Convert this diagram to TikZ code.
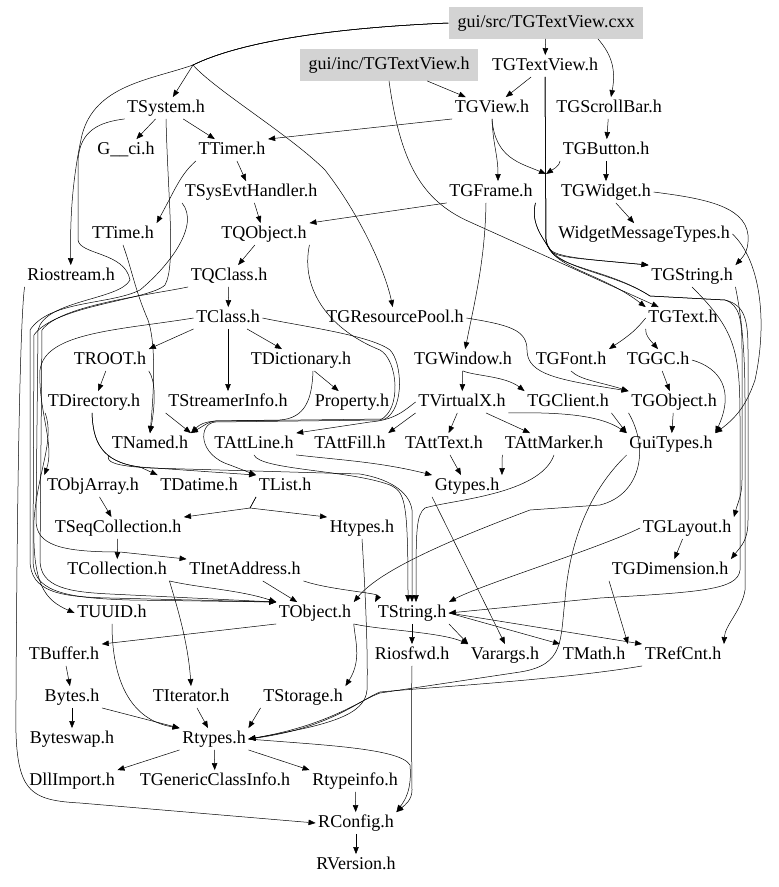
\documentclass[tikz,border=0pt]{standalone}
\usepackage{fontspec}
\setmainfont{Liberation Serif}
\newfontfamily\hdrfont{Liberation Serif}
\usetikzlibrary{arrows.meta}
\definecolor{rootgray}{HTML}{D3D3D3}
\tikzset{
  hdr/.style={inner sep=2.5pt, text height=12.5pt, text depth=4pt, font=\hdrfont\fontsize{18}{20}\selectfont},
  rootfile/.style={hdr, fill=rootgray, inner xsep=9pt, inner ysep=7.5pt},
  dep/.style={->, line width=0.5pt},
}
\begin{document}
\begin{tikzpicture}[x=1pt, y=-1pt, >={Triangle[length=7pt,width=5.5pt]}]
    \useasboundingbox (0,0) rectangle (779,887);
    % files
    \node [rootfile] (cxx) at (546,23) {gui/src/TGTextView.cxx};
    \node [rootfile] (ginc) at (389,65) {gui/inc/TGTextView.h};
    \node [hdr] (tgtextview) at (545,66) {TGTextView.h};
    \node [hdr] (tgview) at (492,108) {TGView.h};
    \node [hdr] (tgscrollbar) at (609,108) {TGScrollBar.h};
    \node [hdr] (tsystem) at (166,108) {TSystem.h};
    \node [hdr] (gci) at (126,150) {G\_\_ci.h};
    \node [hdr] (ttimer) at (232,150) {TTimer.h};
    \node [hdr] (tgbutton) at (606,150) {TGButton.h};
    \node [hdr] (tsysevt) at (251,192) {TSysEvtHandler.h};
    \node [hdr] (tgframe) at (491,192) {TGFrame.h};
    \node [hdr] (tgwidget) at (606,192) {TGWidget.h};
    \node [hdr] (ttime) at (123,234) {TTime.h};
    \node [hdr] (tqobject) at (264,234) {TQObject.h};
    \node [hdr] (widgetmsg) at (644,234) {WidgetMessageTypes.h};
    \node [hdr] (riostream) at (71,276) {Riostream.h};
    \node [hdr] (tqclass) at (229,276) {TQClass.h};
    \node [hdr] (tgstring) at (692,276) {TGString.h};
    \node [hdr] (tclass) at (228,318) {TClass.h};
    \node [hdr] (tgrespool) at (395,318) {TGResourcePool.h};
    \node [hdr] (tgtext) at (683,318) {TGText.h};
    \node [hdr] (troot) at (110,360) {TROOT.h};
    \node [hdr] (tdict) at (301,360) {TDictionary.h};
    \node [hdr] (tgwindow) at (463,360) {TGWindow.h};
    \node [hdr] (tgfont) at (571,360) {TGFont.h};
    \node [hdr] (tggc) at (658,360) {TGGC.h};
    \node [hdr] (tdirectory) at (94,402) {TDirectory.h};
    \node [hdr] (tstreamer) at (228,402) {TStreamerInfo.h};
    \node [hdr] (property) at (352,402) {Property.h};
    \node [hdr] (tvirtualx) at (462,402) {TVirtualX.h};
    \node [hdr] (tgclient) at (568,402) {TGClient.h};
    \node [hdr] (tgobject) at (674,402) {TGObject.h};
    \node [hdr] (tnamed) at (150,444) {TNamed.h};
    \node [hdr] (tattline) at (254,444) {TAttLine.h};
    \node [hdr] (tattfill) at (350,444) {TAttFill.h};
    \node [hdr] (tatttext) at (444,444) {TAttText.h};
    \node [hdr] (tattmarker) at (554,444) {TAttMarker.h};
    \node [hdr] (guitypes) at (671,444) {GuiTypes.h};
    \node [hdr] (tobjarray) at (93,486) {TObjArray.h};
    \node [hdr] (tdatime) at (199,486) {TDatime.h};
    \node [hdr] (tlist) at (285,486) {TList.h};
    \node [hdr] (gtypes) at (467,486) {Gtypes.h};
    \node [hdr] (tseqcoll) at (118,528) {TSeqCollection.h};
    \node [hdr] (htypes) at (362,528) {Htypes.h};
    \node [hdr] (tglayout) at (687,528) {TGLayout.h};
    \node [hdr] (tcollection) at (117,570) {TCollection.h};
    \node [hdr] (tinetaddr) at (245,570) {TInetAddress.h};
    \node [hdr] (tgdim) at (670,570) {TGDimension.h};
    \node [hdr] (tuuid) at (112,613) {TUUID.h};
    \node [hdr] (tobject) at (315,613) {TObject.h};
    \node [hdr] (tstring) at (412,613) {TString.h};
    \node [hdr] (tbuffer) at (64,655) {TBuffer.h};
    \node [hdr] (riosfwd) at (412,655) {Riosfwd.h};
    \node [hdr] (varargs) at (505,655) {Varargs.h};
    \node [hdr] (tmath) at (594,655) {TMath.h};
    \node [hdr] (trefcnt) at (683,655) {TRefCnt.h};
    \node [hdr] (bytes) at (72,697) {Bytes.h};
    \node [hdr] (titerator) at (191,697) {TIterator.h};
    \node [hdr] (tstorage) at (303,697) {TStorage.h};
    \node [hdr] (byteswap) at (72,739) {Byteswap.h};
    \node [hdr] (rtypes) at (214,739) {Rtypes.h};
    \node [hdr] (dllimport) at (72,781) {DllImport.h};
    \node [hdr] (tgeneric) at (215,781) {TGenericClassInfo.h};
    \node [hdr] (rtypeinfo) at (355,781) {Rtypeinfo.h};
    \node [hdr] (rconfig) at (356,823) {RConfig.h};
    \node [hdr] (rversion) at (356,865) {RVersion.h};
    \coordinate (jtop) at (193,65);
    \coordinate (jmid) at (546,174);
    % top part
    \draw [dep] (cxx) -- (tgtextview);
    \draw [dep] ([xshift=52pt]cxx.south) .. controls (612,55) and (616,70) .. (tgscrollbar);
    \draw [dep] (cxx.west) .. controls (330,28) and (240,42) .. (jtop) -- (tsystem);
    \draw [dep] (cxx.west) .. controls (330,28) and (240,42) .. (jtop) .. controls (215,90) and (290,135) .. (325,170) .. controls (360,215) and (385,270) .. (tgrespool);
    \draw [dep] (cxx.west) .. controls (330,28) and (240,42) .. (jtop) .. controls (150,80) and (95,85) .. (82,135) .. controls (72,180) and (70,220) .. (riostream);
    \draw [dep] (ginc) -- (tgview);
    \draw [dep] (ginc.south) .. controls (400,160) and (420,200) .. (470,222) -- (tgtext);
    \draw [dep] (tgtextview) -- (tgview);
    \draw [dep] (tgtextview.south) -- (546,240) .. controls (547,256) and (560,257) .. (tgstring.north west);
    \draw [dep] (tgtextview.south) -- (546,240) .. controls (550,268) and (600,272) .. (tgtext.north west);
    \draw [dep] (tgtextview.south) -- (546,240) .. controls (552,270) and (610,270) .. (650,296) -- (725,300) .. controls (745,305) and (748,320) .. (748,350) -- (748,520) .. controls (748,540) and (742,545) .. (tgdim.north east);
    \draw [dep] (tgview.south west) -- (ttimer.north east);
    \draw [dep] (tgview.south) .. controls (493,145) and (498,155) .. ([xshift=7pt]tgframe.north);
    \draw [dep] (tgview.south) .. controls (495,158) and (520,163) .. (jmid);
    \draw [dep] (tgbutton.south west) .. controls (560,166) and (552,170) .. (jmid);
    \draw [dep] (tgscrollbar) -- (tgbutton);
    \draw [dep] (tgbutton) -- (tgwidget);
    \draw [dep] (tgwidget) -- (widgetmsg);
    \draw [dep] (tgwidget.east) .. controls (700,198) and (745,205) .. (748,235) .. controls (749,248) and (745,255) .. (tgstring.north east);
    \draw [dep] (tsystem) -- (gci);
    \draw [dep] (tsystem) -- (ttimer);
    \draw [dep] (ttimer) -- (tsysevt);
    \draw [dep] (ttimer.south west) .. controls (180,175) and (175,190) .. (ttime.north east);
    \draw [dep] (tsysevt) -- (tqobject);
    \draw [dep] (tgframe.south west) -- (tqobject.north east);
    \draw [dep] ([xshift=-5pt]tgframe.south) .. controls (485,260) and (475,300) .. (tgwindow);
    \draw [dep] (tgframe.south east) .. controls (530,225) and (545,240) .. (550,250) .. controls (556,258) and (575,258) .. (tgstring.north west);
    \draw [dep] (tgframe.south east) .. controls (530,225) and (545,240) .. (550,250) .. controls (560,268) and (610,270) .. (650,296) -- (725,300) .. controls (740,305) and (742,320) .. (742,350) -- (742,480) .. controls (742,495) and (738,502) .. (tglayout.north east);
    \draw [dep] (tqobject) -- (tqclass);
    \draw [dep] (tqclass) -- (tclass);
    % left bundle
    \draw [dep] (tsystem.south west) .. controls (100,122) and (80,130) .. (78,160) -- (78,240) .. controls (80,255) and (125,252) .. (130,280) .. controls (120,300) and (45,300) .. (38,330) -- (36,520) .. controls (36,545) and (60,552) .. (120,552) -- (tinetaddr.north west);
    \draw [dep] (tsystem.south) .. controls (168,200) and (176,265) .. (165,285) .. controls (150,300) and (55,305) .. (34,335) -- (33,560) .. controls (33,590) and (60,598) .. (130,600) -- (tobject.north west);
    \draw [dep] (tsysevt.south west) .. controls (200,225) and (170,265) .. (140,290) .. controls (110,305) and (50,300) .. (30,330) -- (30,560) .. controls (30,592) and (60,597) .. (110,598) -- (tobject.north west);
    \draw [dep] (tqclass.south west) .. controls (150,295) and (60,305) .. (42,330) -- (40,560) .. controls (40,588) and (70,592) .. (110,594) -- (tobject.north west);
    \draw [dep] (ttime.south) .. controls (132,270) and (135,290) .. (148,320) .. controls (155,340) and (155,380) .. (tnamed.north);
    \draw [dep] (riostream.south west) .. controls (20,320) and (17,500) .. (16,700) .. controls (14,790) and (25,800) .. (80,803) -- (rconfig.west);
    % middle part
    \draw [dep] (tclass.south west) -- (troot.north east);
    \draw [dep] (tclass) -- (tdict);
    \draw [dep] (tclass) -- (tstreamer);
    \draw [dep] (tclass.west) .. controls (120,330) and (45,332) .. (40,370) .. controls (38,410) and (55,445) .. (tobjarray.north west);
    \draw [dep] (tclass.east) .. controls (300,326) and (370,335) .. (390,350) .. controls (402,362) and (405,408) .. (385,419) -- (215,421) .. controls (208,422) and (205,425) .. (tnamed.north east);
    \draw [dep] (tqobject.south east) .. controls (300,290) and (330,330) .. (380,350) .. controls (398,360) and (402,410) .. (380,420) -- (215,422) .. controls (198,424) and (198,455) .. (230,465) -- (tlist.north west);
    \draw [dep] (troot) -- (tdirectory);
    \draw [dep] (troot.south east) .. controls (155,380) and (156,400) .. (tnamed.north);
    \draw [dep] ([xshift=-2pt]tdirectory.south) .. controls (93,440) and (100,462) .. (140,467) -- (tdatime.north west);
    \draw [dep] ([xshift=-2pt]tdirectory.south) .. controls (93,440) and (100,462) .. (140,467) -- (tlist.north west);
    \draw [dep] (tdirectory.south west) .. controls (55,440) and (38,470) .. (34,520) .. controls (32,585) and (45,600) .. (tuuid.west);
    \draw [dep] (tdict) -- (property);
    \draw [dep] ([xshift=12pt]tdict.south) .. controls (312,400) and (305,418) .. (280,420) -- (215,421) .. controls (205,422) and (200,424) .. (tnamed.north east);
    \draw [dep] (tstreamer.south west) -- (tnamed.north east);
    \draw [dep] (tgwindow) -- (tvirtualx);
    \draw [dep] (tgwindow.south) .. controls (475,376) and (505,376) .. (tgclient.north west);
    \draw [dep] (tgrespool.east) .. controls (510,325) and (527,330) .. (527,350) .. controls (527,375) and (560,380) .. (tgobject.north west);
    \draw [dep] (tgtext.west) .. controls (636,330) and (630,335) .. (tgfont.north east);
    \draw [dep] (tgtext.south west) .. controls (645,335) and (650,340) .. (tggc.north);
    \draw [dep] (tgfont.south) .. controls (580,380) and (600,382) .. (tgobject.north west);
    \draw [dep] (tggc) -- (tgobject);
    \draw [dep] (tggc.east) .. controls (720,368) and (735,390) .. (guitypes.north east);
    \draw [dep] (widgetmsg.east) .. controls (760,260) and (768,320) .. (755,380) .. controls (748,400) and (740,415) .. (guitypes.north east);
    \draw [dep] (tvirtualx.west) .. controls (405,410) and (395,420) .. (370,422) -- (tattline.north east);
    \draw [dep] (tvirtualx.south west) -- (tattfill.north east);
    \draw [dep] (tvirtualx) -- (tatttext);
    \draw [dep] (tvirtualx) -- (tattmarker);
    \draw [dep] (tvirtualx.south east) .. controls (560,412) and (600,415) .. (guitypes.north west);
    \draw [dep] (tgobject) -- (guitypes);
    \draw [dep] (tgclient.south east) -- (guitypes.north west);
    \draw [dep] (tatttext) -- (gtypes);
    \draw [dep] (tattline.south east) .. controls (340,460) and (380,462) .. (gtypes.north west);
    \draw [dep] (tattmarker.south west) -- (gtypes.north east);
    \draw [dep] (tnamed.south west) .. controls (105,462) and (115,466) .. (150,468) -- (360,474) .. controls (395,480) and (410,495) .. (412,510) -- (tstring.north);
    \draw [dep] (tattline.south) .. controls (260,470) and (350,470) .. (390,485) .. controls (405,492) and (408,500) .. ([xshift=-4pt]tstring.north);
    \draw [dep] (tgobject.south west) .. controls (650,450) and (640,495) .. (600,505) -- (530,510) .. controls (450,540) and (380,570) .. (tobject.north east);
    \draw [dep] (tattmarker.south) .. controls (540,495) and (450,500) .. (425,508) .. controls (416,515) and (416,530) .. ([xshift=4pt]tstring.north);
    \draw [dep] (gtypes.south west) -- (varargs.north);
    % lower part
    \draw [dep] (tobjarray) -- (tseqcoll);
    \draw [dep] (tlist.south west) -- (250,508) -- (tseqcoll.north east);
    \draw [dep] (tlist.south west) -- (250,508) -- (htypes.north west);
    \draw [dep] (tseqcoll) -- (tcollection);
    \draw [dep] (tcollection.south east) .. controls (175,600) and (188,640) .. (titerator.north);
    \draw [dep] (tcollection.south east) .. controls (200,588) and (240,590) .. (tobject.north west);
    \draw [dep] (tinetaddr) -- (tobject);
    \draw [dep] (tinetaddr.south east) .. controls (330,590) and (380,593) .. (tstring.north west);
    \draw [dep] (htypes.south) .. controls (366,600) and (368,660) .. (367,690) .. controls (365,715) and (330,725) .. (rtypes.east);
    \draw [dep] (tglayout) -- (tgdim);
    \draw [dep] (tglayout.west) .. controls (600,548) and (480,585) .. (tstring.north east);
    \draw [dep] (tgdim.south west) -- (tmath.north east);
    \draw [dep] (tgstring.south) .. controls (735,330) and (740,350) .. (740,420) -- (740,570) .. controls (738,590) and (700,592) .. (600,598) -- (tstring.east);
    \draw [dep] (tgstring.south east) .. controls (740,310) and (745,340) .. (745,400) -- (745,590) .. controls (742,610) and (725,625) .. (trefcnt.north east);
    \draw [dep] (guitypes.south west) .. controls (580,500) and (568,560) .. (565,600) .. controls (560,640) and (565,665) .. (520,672) -- (380,693) .. controls (360,700) and (330,725) .. (rtypes.east);
    \draw [dep] (trefcnt.south west) .. controls (560,680) and (420,688) .. (380,692) .. controls (360,700) and (330,728) .. (rtypes.east);
    \draw [dep] (tobject.south west) -- (tbuffer.north east);
    \draw [dep] (tuuid.south) .. controls (112,680) and (130,720) .. (rtypes.north west);
    \draw [dep] (tobject.south east) .. controls (355,640) and (362,660) .. (tstorage.north east);
    \draw [dep] (tobject.south east) .. controls (380,630) and (440,632) .. (varargs.north west);
    \draw [dep] (tstring) -- (riosfwd);
    \draw [dep] (tstring.south east) -- (varargs.north west);
    \draw [dep] (tstring.east) -- (tmath.north west);
    \draw [dep] (tstring.east) -- (trefcnt.north west);
    \draw [dep] (tbuffer) -- (bytes);
    \draw [dep] (bytes) -- (byteswap);
    \draw [dep] (bytes.south east) -- (rtypes.north west);
    \draw [dep] (titerator) -- (rtypes);
    \draw [dep] (tstorage.south west) -- (rtypes.north east);
    \draw [dep] (rtypes.south west) -- (dllimport.north east);
    \draw [dep] (rtypes) -- (tgeneric);
    \draw [dep] (rtypes.south east) -- (rtypeinfo.north west);
    \draw [dep] (rtypes.east) .. controls (320,745) and (400,748) .. (410,765) .. controls (412,790) and (405,800) .. (rconfig.north east);
    \draw [dep] (riosfwd.south) .. controls (411,720) and (412,780) .. (412,790) .. controls (412,800) and (405,805) .. (rconfig.north east);
    \draw [dep] (rtypeinfo) -- (rconfig);
    \draw [dep] (rconfig) -- (rversion);
\end{tikzpicture}
\end{document}
